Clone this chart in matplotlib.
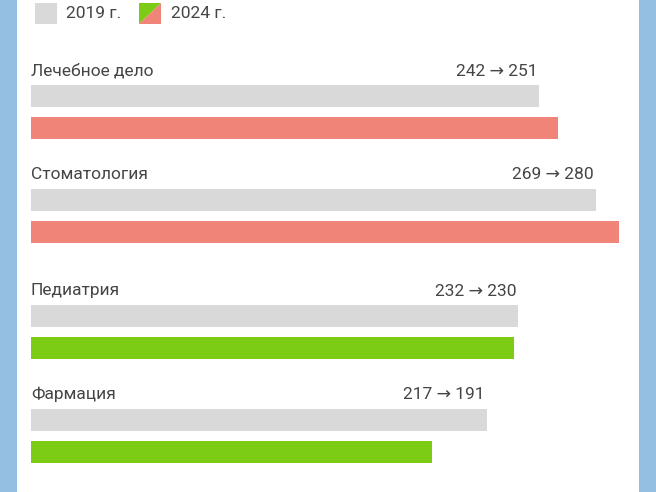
import matplotlib.pyplot as plt
from matplotlib.patches import Rectangle, Polygon

plt.rcParams['font.family'] = ['Roboto', 'DejaVu Sans']

# данные
specialties = ["Лечебное дело", "Стоматология", "Педиатрия", "Фармация"]
values_2019 = [242, 269, 232, 217]
values_2024 = [251, 280, 230, 191]
legend_labels = ["2019 г.", "2024 г."]

GREY = "#d9d9d9"
RED = "#f08478"
GREEN = "#7ccc15"
TEXT = "#454545"
BLUE = "#94bfe3"

W, H = 656, 492
fig = plt.figure(figsize=(W / 100, H / 100), dpi=100)

# фон и голубые полосы по краям (в пикселях)
bg = fig.add_axes([0, 0, 1, 1])
bg.set_xlim(0, W)
bg.set_ylim(H, 0)
bg.axis("off")
bg.add_patch(Rectangle((0, 0), 17, H, color=BLUE, lw=0))
bg.add_patch(Rectangle((639, 0), 17, H, color=BLUE, lw=0))

# легенда
bg.add_patch(Rectangle((35, 3), 22, 21, color=GREY, lw=0))
bg.text(66, 14, legend_labels[0], fontsize=12.5, color=TEXT, va="center")
bg.add_patch(Polygon([(139, 3), (161, 3), (139, 24)], color=GREEN, lw=0))
bg.add_patch(Polygon([(161, 3), (161, 24), (139, 24)], color=RED, lw=0))
bg.text(171, 14, legend_labels[1], fontsize=12.5, color=TEXT, va="center")

# основные полосы: x от 0 до 280 на пикселях 31..619
ax = fig.add_axes([31 / W, 0, 588 / W, 1])
ax.set_xlim(0, 280)
ax.set_ylim(H, 0)
ax.axis("off")

bar_h = 22
for i, (name, a, b) in enumerate(zip(specialties, values_2019, values_2024)):
    top = 85 + i * 103.5 + (13 if i >= 2 else 0)
    col = RED if b > a else GREEN
    ax.barh(top + bar_h / 2, a, height=bar_h, color=GREY, left=0)
    ax.barh(top + 32 + bar_h / 2, b, height=bar_h, color=col, left=0)
    ax.text(0, top - 14, name, fontsize=12.5, color=TEXT, va="center", ha="left")
    ax.text(a - 1, top - 14, f"{a} → {b}", fontsize=12.5, color=TEXT,
            va="center", ha="right")

fig.savefig("out.png", dpi=100, facecolor="white")
